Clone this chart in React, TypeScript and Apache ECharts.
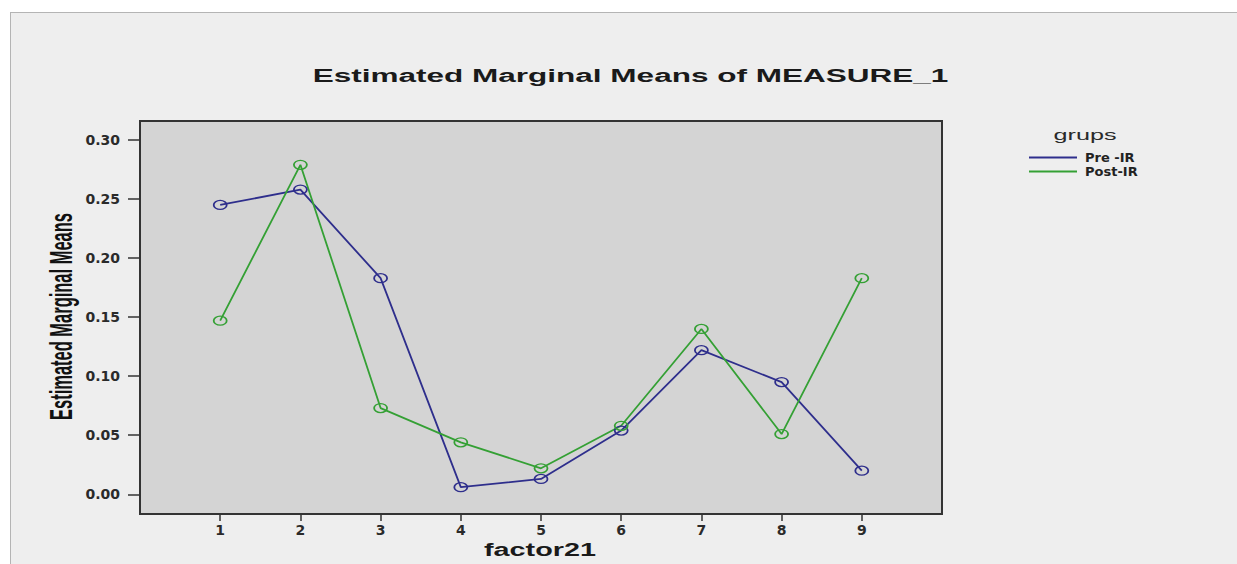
import React, { useEffect, useRef } from "react";
import * as echarts from "echarts";

// ---- data ----
const categories = [1, 2, 3, 4, 5, 6, 7, 8, 9];
const preIR = [0.245, 0.258, 0.183, 0.006, 0.013, 0.054, 0.122, 0.095, 0.02];
const postIR = [0.147, 0.279, 0.073, 0.044, 0.022, 0.058, 0.14, 0.051, 0.183];
const yTicks = [0, 0.05, 0.1, 0.15, 0.2, 0.25, 0.3];
const seriesNames = ["Pre -IR", "Post-IR"];
const chartTitle = "Estimated Marginal Means of MEASURE_1";
const yName = "Estimated Marginal Means";
const xName = "factor21";
const legendTitle = "grups";

const BLUE = "#2e2e8c";
const GREEN = "#34a034";
const ELLIPSE = "path://M0 5A5 5 0 1 1 10 5A5 5 0 1 1 0 5Z";

const tickFont = {
  fontFamily: "DejaVu Sans",
  fontWeight: "bold" as const,
  fontSize: 14,
  color: "#2a2a2a",
};

function makeSeries(name: string, values: number[], color: string) {
  return {
    name,
    type: "line" as const,
    data: categories.map((c, i) => [c, values[i]]),
    symbol: ELLIPSE,
    symbolSize: [13, 9],
    symbolKeepAspect: false,
    lineStyle: { color, width: 1.8 },
    itemStyle: { color: "rgba(0,0,0,0)", borderColor: color, borderWidth: 1.5 },
    emphasis: { disabled: true },
    z: 3,
  };
}

const option: any = {
  animation: false,
  backgroundColor: "transparent",
  grid: {
    left: 140,
    right: 295,
    top: 121,
    bottom: 50,
    show: true,
    backgroundColor: "#d4d4d4",
    borderColor: "#333333",
    borderWidth: 2,
    outerBoundsMode: "none",
  },
  xAxis: {
    type: "value",
    min: 0,
    max: 10,
    axisLine: { show: false, onZero: false },
    splitLine: { show: false },
    axisTick: {
      show: true,
      customValues: categories,
      length: 7,
      lineStyle: { color: "#333333", width: 1.5 },
    },
    axisLabel: {
      ...tickFont,
      customValues: categories,
      margin: 9,
      formatter: (v: number) => String(v),
    },
  },
  yAxis: {
    type: "value",
    min: -0.0167,
    max: 0.3161,
    axisLine: { show: false, onZero: false },
    splitLine: { show: false },
    axisTick: {
      show: true,
      customValues: yTicks,
      length: 12,
      lineStyle: { color: "#333333", width: 1.5 },
    },
    axisLabel: {
      ...tickFont,
      customValues: yTicks,
      margin: 20,
      formatter: (v: number) => v.toFixed(2),
    },
  },
  legend: {
    orient: "vertical",
    left: 1024,
    top: 145,
    itemWidth: 48,
    itemHeight: 2,
    itemGap: -1,
    icon: "rect",
    selectedMode: false,
    textStyle: {
      fontFamily: "DejaVu Sans",
      fontWeight: "bold",
      fontSize: 13,
      color: "#222222",
      lineHeight: 15,
      padding: [0, 0, 0, 3],
    },
    data: [
      { name: seriesNames[0], itemStyle: { color: BLUE, borderWidth: 0 } },
      { name: seriesNames[1], itemStyle: { color: GREEN, borderWidth: 0 } },
    ],
  },
  graphic: [
    {
      type: "text",
      x: 630.5,
      y: 75.3,
      scaleX: 1.66,
      silent: true,
      style: {
        text: chartTitle,
        fontFamily: "Liberation Sans",
        fontWeight: "bold",
        fontSize: 19,
        fill: "#1a1a1a",
        align: "center",
        verticalAlign: "middle",
        textAlign: "center",
        textVerticalAlign: "middle",
      },
    },
    {
      type: "text",
      x: 61.2,
      y: 316.5,
      rotation: Math.PI / 2,
      scaleX: 0.532,
      silent: true,
      style: {
        text: yName,
        fontFamily: "Liberation Sans",
        fontWeight: "bold",
        fontSize: 31,
        fill: "#111111",
        align: "center",
        verticalAlign: "middle",
        textAlign: "center",
        textVerticalAlign: "middle",
      },
    },
    {
      type: "text",
      x: 540,
      y: 549.5,
      scaleX: 1.6,
      silent: true,
      style: {
        text: xName,
        fontFamily: "Liberation Sans",
        fontWeight: "bold",
        fontSize: 18,
        fill: "#1a1a1a",
        align: "center",
        verticalAlign: "middle",
        textAlign: "center",
        textVerticalAlign: "middle",
      },
    },
    {
      type: "text",
      x: 1085,
      y: 135,
      scaleX: 1.8,
      silent: true,
      style: {
        text: legendTitle,
        fontFamily: "Liberation Sans",
        fontSize: 14,
        fill: "#2a2a2a",
        align: "center",
        verticalAlign: "middle",
        textAlign: "center",
        textVerticalAlign: "middle",
      },
    },
  ],
  series: [
    makeSeries(seriesNames[0], preIR, BLUE),
    makeSeries(seriesNames[1], postIR, GREEN),
  ],
};

export default function App() {
  const ref = useRef<HTMLDivElement>(null);
  useEffect(() => {
    document.body.style.margin = "0";
    const chart = echarts.init(ref.current!, null, { renderer: "svg" });
    chart.setOption(option);
    return () => chart.dispose();
  }, []);
  return (
    <div
      style={{
        position: "fixed",
        left: 0,
        top: 0,
        width: 1237,
        height: 564,
        background: "#ffffff",
        overflow: "hidden",
      }}
    >
      <div
        style={{
          position: "absolute",
          left: 10,
          top: 12,
          right: 0,
          bottom: 0,
          background: "#eeeeee",
          borderTop: "1px solid #b4b4b4",
          borderLeft: "1px solid #b4b4b4",
        }}
      />
      <div
        ref={ref}
        style={{ position: "absolute", left: 0, top: 0, width: 1237, height: 564 }}
      />
    </div>
  );
}
